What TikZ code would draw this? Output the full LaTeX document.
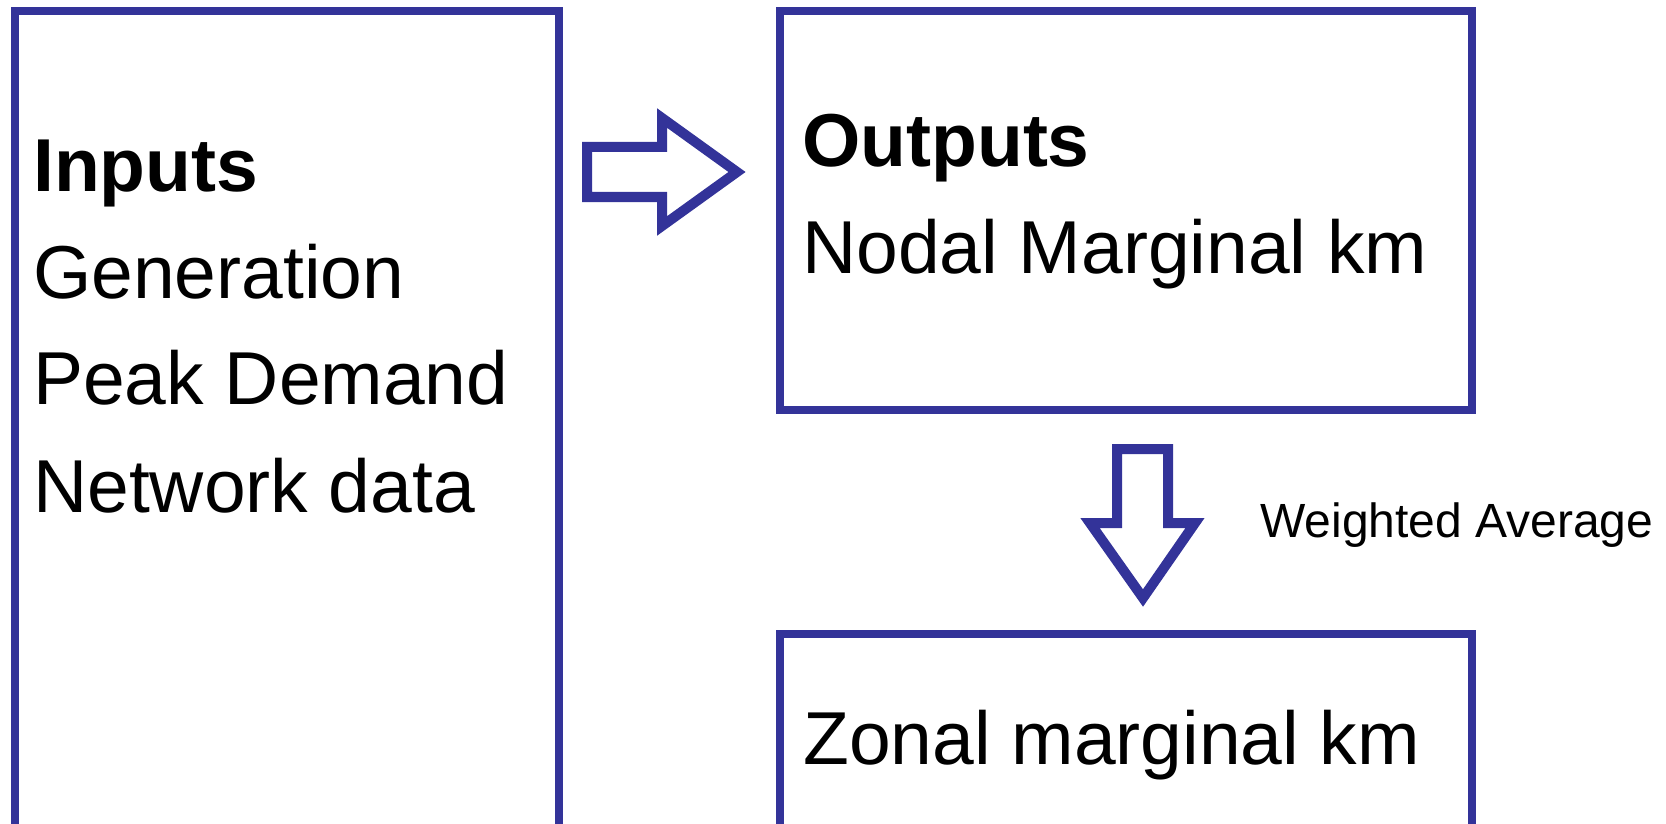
\documentclass[tikz,border=0pt]{standalone}
\usepackage{fontspec}
\setmainfont{Liberation Sans}
\definecolor{boxblue}{RGB}{51,51,153}
\tikzset{
  box/.style={draw=boxblue, line width=8pt, anchor=north west, inner sep=0pt},
  blockarrow/.style={draw=boxblue, line width=10pt, miter limit=10},
  bigtext/.style={font=\fontsize{75}{90}\selectfont},
  smalltext/.style={font=\fontsize{48}{57}\selectfont}
}
\begin{document}
\begin{tikzpicture}[x=1pt, y=-1pt, every node/.style={inner sep=0pt, anchor=base west}]
  \useasboundingbox (0,0) rectangle (1666,824);
  % boxes
  \node[box, minimum width=544pt, minimum height=860pt] (inbox) at (11,7) {};
  \node[box, minimum width=692pt, minimum height=399pt] (outbox) at (776,7) {};
  \node[box, minimum width=692pt, minimum height=300pt] (zonebox) at (776,630) {};
  % inputs
  \node[bigtext] (intitle) at (33,191) {\bfseries Inputs};
  \node[bigtext] (gen) at (33,298) {Generation};
  \node[bigtext] (peak) at (33,404) {Peak Demand};
  \node[bigtext] (net) at (33,512) {Network data};
  % outputs
  \node[bigtext] (outtitle) at (802,167) {\bfseries Outputs};
  \node[bigtext] (nodal) at (802,273) {Nodal Marginal km};
  \node[bigtext] (zonal) at (803,764) {Zonal marginal km};
  \node[smalltext] (wavg) at (1260,537) {Weighted Average};
  % block arrows
  \draw[blockarrow] (587,147) -- (662,147) -- (662,118) -- (737,172)
    -- (662,226) -- (662,197) -- (587,197) -- cycle;
  \draw[blockarrow] (1117,449) -- (1168,449) -- (1168,523) -- (1195,523)
    -- (1143,598) -- (1090,523) -- (1117,523) -- cycle;
\end{tikzpicture}
\end{document}
